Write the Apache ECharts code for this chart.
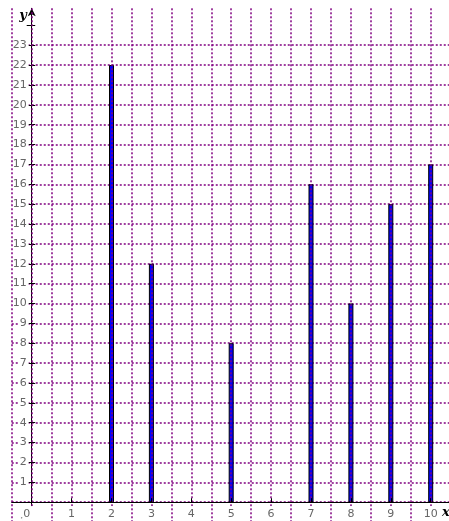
<!DOCTYPE html>
<html>
<head>
<meta charset="utf-8">
<script src="https://cdn.jsdelivr.net/npm/echarts@6/dist/echarts.min.js"></script>
<style>
html,body{margin:0;padding:0;background:#fff;overflow:hidden;}
#chart{width:449px;height:521px;}
</style>
</head>
<body>
<div id="chart"></div>
<script>
// data
const xValues = [2, 3, 5, 7, 8, 9, 10];
const yValues = [22, 12, 8, 16, 10, 15, 17];
const xTickValues = [0, 1, 2, 3, 4, 5, 6, 7, 8, 9, 10];
const yTickValues = [-1, 0, 1, 2, 3, 4, 5, 6, 7, 8, 9, 10, 11, 12, 13, 14, 15, 16, 17, 18, 19, 20, 21, 22, 23, 24];
const yLabelValues = [-1, 1, 2, 3, 4, 5, 6, 7, 8, 9, 10, 11, 12, 13, 14, 15, 16, 17, 18, 19, 20, 21, 22, 23];

const X_MIN = -0.5, X_MAX = 10.4586;
const Y_MIN = -1, Y_MAX = 24.856;

const gridStyle = { color: '#800080', width: 1.5, type: [2, 2] };
const labelFont = { fontFamily: 'DejaVu Sans', fontSize: 11, color: '#666' };

const chart = echarts.init(document.getElementById('chart'), null, { renderer: 'canvas' });
chart.setOption({
  animation: false,
  backgroundColor: '#fff',
  grid: [{ left: 11.75, right: 0, top: 8.3, bottom: -1.07, containLabel: false, outerBoundsMode: 'none' }],
  xAxis: [{
    type: 'value', gridIndex: 0, min: X_MIN, max: X_MAX, interval: 0.5, z: 4, position: 'bottom',
    axisLine: { show: true, onZero: true, lineStyle: { color: '#000', width: 1 } },
    axisTick: { show: true, inside: true, length: 4, customValues: xTickValues, lineStyle: { color: '#000', width: 1 } },
    axisLabel: {
      show: true, customValues: xTickValues, margin: -16, ...labelFont,
      backgroundColor: '#fff', padding: [3, 1, 2, 1],
      formatter: v => v === 0 ? '{z|0}' : String(v),
      rich: { z: { ...labelFont, padding: [0, 10, 0, 0] } }
    },
    splitLine: { show: false },
    name: 'x', nameLocation: 'end', nameGap: -7, nameMoveOverlap: false,
    nameTextStyle: { fontFamily: 'DejaVu Serif', fontStyle: 'italic', fontWeight: 'bold', fontSize: 13, color: '#000', verticalAlign: 'top', padding: [4, 0, 0, 0] }
  }, {
    type: 'value', gridIndex: 0, min: X_MIN, max: X_MAX, interval: 0.5, z: 3, position: 'top',
    axisLine: { show: false, onZero: false },
    axisTick: { show: false },
    axisLabel: { show: false },
    splitLine: { show: true, showMinLine: true, showMaxLine: false, lineStyle: gridStyle }
  }],
  yAxis: [{
    type: 'value', gridIndex: 0, min: Y_MIN, max: Y_MAX, interval: 1, position: 'left',
    axisLine: { show: true, onZero: true, symbol: ['none', 'arrow'], symbolSize: [6, 8], lineStyle: { color: '#000', width: 1 } },
    axisTick: { show: true, inside: true, length: 3.5, customValues: yTickValues, lineStyle: { color: '#000', width: 1 } },
    axisLabel: { show: false },
    splitLine: { show: true, showMinLine: true, showMaxLine: false, lineStyle: gridStyle },
    name: 'y', nameLocation: 'end', nameGap: -14, nameMoveOverlap: false,
    nameTextStyle: { fontFamily: 'DejaVu Serif', fontStyle: 'italic', fontWeight: 'bold', fontSize: 13, color: '#000', align: 'right', verticalAlign: 'bottom', padding: [0, 5, 0, 0] }
  }, {
    type: 'value', gridIndex: 0, min: Y_MIN, max: Y_MAX, interval: 1, position: 'left', offset: -19.95,
    axisLine: { show: false, onZero: false },
    axisTick: { show: true, inside: false, length: 5, customValues: yTickValues, lineStyle: { color: '#000', width: 1 } },
    axisLabel: {
      show: true, customValues: yLabelValues, margin: 3, ...labelFont,
      backgroundColor: '#fff', padding: [0, 2, 0, 1]
    },
    splitLine: { show: false }
  }],
  series: [{
    type: 'bar', xAxisIndex: 0, yAxisIndex: 0, z: 2,
    barWidth: 5,
    itemStyle: { color: '#0000ff', borderColor: '#000', borderWidth: 1 },
    data: xValues.map((x, i) => [x, yValues[i]])
  }]
});
</script>
</body>
</html>
